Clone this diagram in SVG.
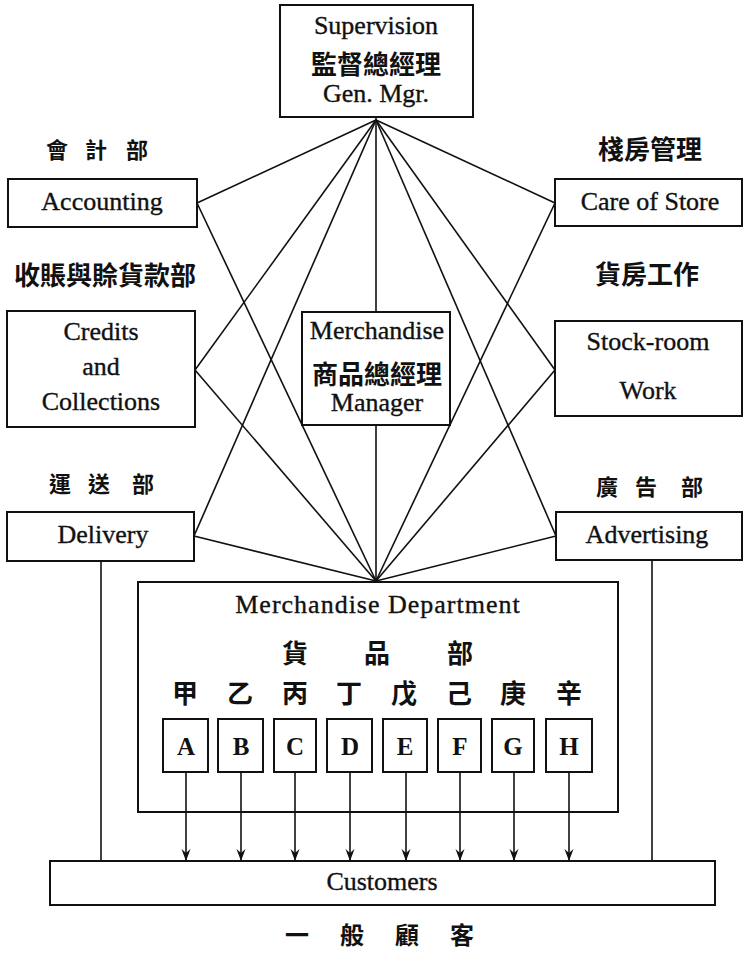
<svg xmlns="http://www.w3.org/2000/svg" width="744" height="953" viewBox="0 0 744 953">
<defs>
<marker id="arr" viewBox="0 0 12 10" refX="12" refY="5" markerWidth="12" markerHeight="10" markerUnits="userSpaceOnUse" orient="auto">
<path d="M0,0.5 L12,5 L0,9.5 L4,5 Z" fill="#111"/>
</marker>
</defs>
<style>
.box{fill:#fff;stroke:#111;stroke-width:2}
.en{font-family:"Liberation Serif","Times New Roman",serif;font-size:26px;fill:#111;stroke:#111;stroke-width:0.35;text-anchor:middle}
.zh{font-family:"Noto Sans CJK TC","Noto Sans CJK SC",sans-serif;font-size:26px;font-weight:700;fill:#111;text-anchor:middle;dominant-baseline:central}
.zs{font-size:22px}
.lt{font-family:"Liberation Serif","Times New Roman",serif;font-size:25px;font-weight:700;fill:#111;text-anchor:middle}
.ln{fill:none;stroke:#111;stroke-width:1.6}
.ar{fill:none;stroke:#111;stroke-width:1.6;marker-end:url(#arr)}
</style>
<rect width="744" height="953" fill="#fff"/>

<g id="supervision">
<rect class="box" x="280" y="5" width="193" height="112"/>
<text class="en" x="376" y="34">Supervision</text>
<text class="zh" x="376" y="62" style="font-size:26px">監督總經理</text>
<text class="en" x="376" y="102">Gen. Mgr.</text>
</g>

<g id="accounting">
<text class="zh zs" x="57" y="148">會</text>
<text class="zh zs" x="96" y="148">計</text>
<text class="zh zs" x="137" y="148">部</text>
<rect class="box" x="8" y="179" width="189" height="48"/>
<text class="en" x="102" y="210">Accounting</text>
</g>

<g id="care-of-store">
<text class="zh" x="650" y="147">棧房管理</text>
<rect class="box" x="555" y="179" width="187" height="47"/>
<text class="en" x="650" y="210">Care of Store</text>
</g>

<g id="credits">
<text class="zh" x="105" y="273">收賬與賒貨款部</text>
<rect class="box" x="7" y="311" width="188" height="116"/>
<text class="en" x="101" y="340">Credits</text>
<text class="en" x="101" y="375">and</text>
<text class="en" x="101" y="410">Collections</text>
</g>

<g id="stock-room">
<text class="zh" x="647" y="272">貨房工作</text>
<rect class="box" x="555" y="321" width="187" height="95"/>
<text class="en" x="648" y="350">Stock-room</text>
<text class="en" x="648" y="399">Work</text>
</g>

<g id="merch-manager">
<rect class="box" x="302" y="312" width="148" height="113"/>
<text class="en" x="377" y="339">Merchandise</text>
<text class="zh" x="377" y="372" style="font-size:26px">商品總經理</text>
<text class="en" x="377" y="411">Manager</text>
</g>

<g id="delivery">
<text class="zh zs" x="60" y="482">運</text>
<text class="zh zs" x="99" y="482">送</text>
<text class="zh zs" x="143" y="482">部</text>
<rect class="box" x="7" y="512" width="187" height="49"/>
<text class="en" x="103" y="543">Delivery</text>
</g>

<g id="advertising">
<text class="zh zs" x="607" y="485">廣</text>
<text class="zh zs" x="646" y="485">告</text>
<text class="zh zs" x="692" y="485">部</text>
<rect class="box" x="556" y="512" width="186" height="48"/>
<text class="en" x="647" y="543">Advertising</text>
</g>

<g id="merch-dept">
<rect class="box" x="138" y="582" width="480" height="230"/>
<text class="en" x="378" y="613" style="letter-spacing:1px">Merchandise  Department</text>
<text class="zh" x="295" y="651">貨</text>
<text class="zh" x="377" y="651">品</text>
<text class="zh" x="460" y="651">部</text>
<text class="zh" x="185" y="691">甲</text>
<text class="zh" x="240" y="691">乙</text>
<text class="zh" x="295" y="691">丙</text>
<text class="zh" x="349" y="691">丁</text>
<text class="zh" x="404" y="691">戊</text>
<text class="zh" x="459" y="691">己</text>
<text class="zh" x="513" y="691">庚</text>
<text class="zh" x="569" y="691">辛</text>
</g>

<g id="dept-A"><rect class="box" x="163" y="719" width="45" height="53"/><text class="lt" x="186" y="755">A</text></g>
<g id="dept-B"><rect class="box" x="218" y="719" width="45" height="53"/><text class="lt" x="241" y="755">B</text></g>
<g id="dept-C"><rect class="box" x="274" y="719" width="42" height="53"/><text class="lt" x="295" y="755">C</text></g>
<g id="dept-D"><rect class="box" x="327" y="719" width="45" height="53"/><text class="lt" x="350" y="755">D</text></g>
<g id="dept-E"><rect class="box" x="383" y="719" width="44" height="53"/><text class="lt" x="405" y="755">E</text></g>
<g id="dept-F"><rect class="box" x="438" y="719" width="43" height="53"/><text class="lt" x="460" y="755">F</text></g>
<g id="dept-G"><rect class="box" x="492" y="719" width="42" height="53"/><text class="lt" x="513" y="755">G</text></g>
<g id="dept-H"><rect class="box" x="546" y="719" width="46" height="53"/><text class="lt" x="569" y="755">H</text></g>

<g id="customers">
<rect class="box" x="50" y="861" width="665" height="44"/>
<text class="en" x="382" y="890">Customers</text>
<text class="zh" x="297" y="933" style="font-size:24px">一</text>
<text class="zh" x="352" y="933" style="font-size:24px">般</text>
<text class="zh" x="407" y="933" style="font-size:24px">顧</text>
<text class="zh" x="462" y="933" style="font-size:24px">客</text>
</g>

<g id="connectors">
<line class="ln" x1="376" y1="120" x2="197" y2="203"/>
<line class="ln" x1="376" y1="120" x2="555" y2="203"/>
<line class="ln" x1="376" y1="120" x2="195" y2="370"/>
<line class="ln" x1="376" y1="120" x2="555" y2="370"/>
<line class="ln" x1="376" y1="120" x2="194" y2="536"/>
<line class="ln" x1="376" y1="120" x2="556" y2="536"/>
<line class="ln" x1="376" y1="117" x2="376" y2="312"/>
<line class="ln" x1="197" y1="203" x2="376" y2="581"/>
<line class="ln" x1="555" y1="203" x2="376" y2="581"/>
<line class="ln" x1="195" y1="370" x2="376" y2="581"/>
<line class="ln" x1="555" y1="370" x2="376" y2="581"/>
<line class="ln" x1="194" y1="536" x2="376" y2="581"/>
<line class="ln" x1="556" y1="536" x2="376" y2="581"/>
<line class="ln" x1="376" y1="425" x2="376" y2="582"/>
<line class="ln" x1="101" y1="561" x2="101" y2="861"/>
<line class="ln" x1="652" y1="560" x2="652" y2="861"/>
<line class="ar" x1="186" y1="772" x2="186" y2="861"/>
<line class="ar" x1="241" y1="772" x2="241" y2="861"/>
<line class="ar" x1="295" y1="772" x2="295" y2="861"/>
<line class="ar" x1="350" y1="772" x2="350" y2="861"/>
<line class="ar" x1="406" y1="772" x2="406" y2="861"/>
<line class="ar" x1="460" y1="772" x2="460" y2="861"/>
<line class="ar" x1="514" y1="772" x2="514" y2="861"/>
<line class="ar" x1="569" y1="772" x2="569" y2="861"/>
</g>
</svg>
